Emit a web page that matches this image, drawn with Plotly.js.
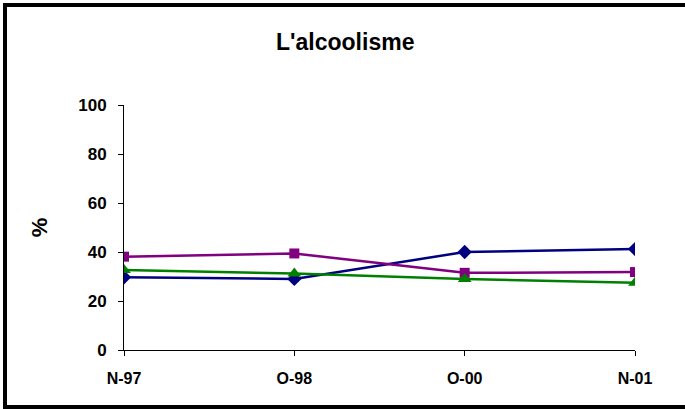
<!DOCTYPE html>
<html>
<head>
<meta charset="utf-8">
<script src="https://cdn.plot.ly/plotly-3.0.1.min.js"></script>
<style>
  html, body { margin: 0; padding: 0; background: #fff; }
  #wrap { position: relative; width: 685px; height: 409px; overflow: hidden; }
  #chart { position: absolute; left: 0; top: 0; width: 685px; height: 409px; }
  #frame { position: absolute; left: 3px; top: 3px; width: 690px; height: 398px;
           border-left: 4px solid #000; border-top: 4px solid #000; border-bottom: 4px solid #000;
           pointer-events: none; }
</style>
</head>
<body>
<div id="wrap">
  <div id="chart"></div>
  <div id="frame"></div>
</div>
<script>
const categories = ["N-97", "O-98", "O-00", "N-01"];
const seriesNavy = [29.7, 29.0, 40.0, 41.2];
const seriesPurple = [38.1, 39.4, 31.5, 31.8];
const seriesGreen = [32.7, 31.2, 29.0, 27.5];
const yTicks = [0, 20, 40, 60, 80, 100];

const FONT = "Liberation Sans, Arial, sans-serif";

const traces = [
  { x: categories, y: seriesNavy, mode: "lines+markers", name: "s1",
    line: { color: "#000080", width: 2.5 },
    marker: { symbol: "diamond", size: 11, color: "#000080" } },
  { x: categories, y: seriesPurple, mode: "lines+markers", name: "s2",
    line: { color: "#800080", width: 2.5 },
    marker: { symbol: "square", size: 10, color: "#800080" } },
  { x: categories, y: seriesGreen, mode: "lines+markers", name: "s3",
    line: { color: "#008000", width: 2.5 },
    marker: { symbol: "triangle-up", size: 12, color: "#008000" } }
];

const layout = {
  width: 685, height: 409,
  margin: { l: 124, r: 50, t: 105, b: 59, pad: 0 },
  paper_bgcolor: "#fff", plot_bgcolor: "#fff",
  showlegend: false,
  title: { text: "<b>L'alcoolisme</b>", x: 0.504, xanchor: "center", y: 0.897, yanchor: "middle",
           font: { family: FONT, size: 23, color: "#000" } },
  xaxis: {
    type: "category", range: [0, 3],
    showgrid: false, zeroline: false,
    showline: true, linecolor: "#000", linewidth: 1,
    ticks: "outside", ticklen: 5, tickcolor: "#000",
    ticklabelstandoff: 9,
    tickfont: { family: FONT, size: 16, color: "#000", weight: "bold" }
  },
  yaxis: {
    range: [0, 100], tickvals: yTicks, ticktext: yTicks.map(String),
    showgrid: false, zeroline: false,
    showline: true, linecolor: "#000", linewidth: 1,
    ticks: "outside", ticklen: 5, tickcolor: "#000",
    ticklabelstandoff: 8,
    tickfont: { family: FONT, size: 17, color: "#000", weight: "bold" },
    title: { text: "<b>%</b>", standoff: 24, font: { family: FONT, size: 22, color: "#000" } }
  }
};

Plotly.newPlot("chart", traces, layout, { displayModeBar: false, staticPlot: true });
</script>
</body>
</html>
